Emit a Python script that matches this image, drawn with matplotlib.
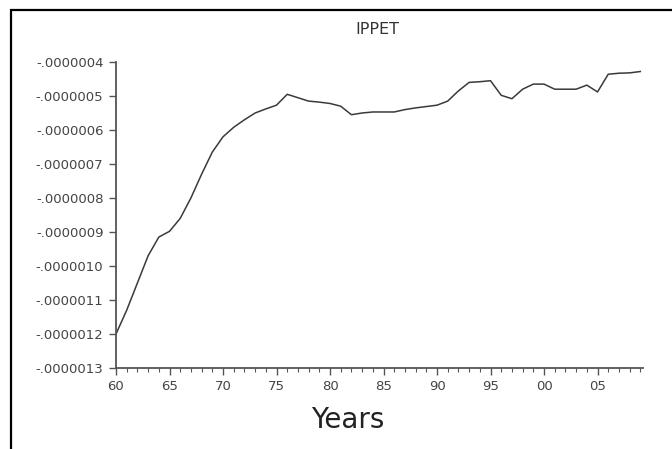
import numpy as np
import matplotlib
matplotlib.use("Agg")
import matplotlib.pyplot as plt
from matplotlib.ticker import FuncFormatter, MultipleLocator

# annual series, units of 1e-7
years = np.arange(1960, 2010)
ippet = np.array([
    -12.00, -11.30, -10.50, -9.70, -9.15, -8.98, -8.60, -8.00, -7.30, -6.65,
    -6.20, -5.92, -5.70, -5.50, -5.38, -5.27, -4.95, -5.05, -5.15, -5.18,
    -5.22, -5.30, -5.55, -5.50, -5.47, -5.47, -5.47, -5.40, -5.35, -5.31,
    -5.27, -5.15, -4.85, -4.60, -4.58, -4.55, -4.98, -5.08, -4.80, -4.65,
    -4.65, -4.80, -4.80, -4.80, -4.68, -4.88, -4.36, -4.33, -4.32, -4.28,
]) * 1e-7

W, H = 672, 449
fig = plt.figure(figsize=(W / 100, H / 100), dpi=100)

# axes box in pixels: left 116, right 643, top 62, bottom 368
ax = fig.add_axes([116 / W, 1 - 368 / H, (643 - 116) / W, (368 - 62) / H])
ax.plot(years, ippet, color="#3a3a3a", lw=1.1)

ax.set_xlim(1960, 2009.25)
ax.set_ylim(-13e-7, -4e-7)

ax.xaxis.set_major_locator(MultipleLocator(5))
ax.xaxis.set_minor_locator(MultipleLocator(1))
ax.yaxis.set_major_locator(MultipleLocator(1e-7))

ax.xaxis.set_major_formatter(FuncFormatter(lambda v, p: f"{int(round(v)) % 100:02d}"))
ax.yaxis.set_major_formatter(FuncFormatter(lambda v, p: f"{v:.7f}".replace("-0.", "-.")))

for s in ["top", "right"]:
    ax.spines[s].set_visible(False)
for s in ["left", "bottom"]:
    ax.spines[s].set_color("#555555")
    ax.spines[s].set_linewidth(1.3)

ax.tick_params(axis="both", which="major", direction="out", length=5, width=1,
               color="#555555", labelcolor="#444444", labelsize=9.5, pad=4)
ax.tick_params(axis="x", which="minor", direction="out", length=3, width=0.8,
               color="#555555")

fig.text(377 / W, 1 - 29 / H, "IPPET", ha="center", va="center",
         fontsize=11.5, color="#333333")
fig.text(348 / W, 1 - 420 / H, "Years", ha="center", va="center",
         fontsize=20, color="#222222")

# outer frame, running off the right and bottom edges
frame = plt.Rectangle((11 / W, -0.1), 1.2, 1.1 - 10 / H, transform=fig.transFigure,
                      fill=False, edgecolor="black", lw=1.6, clip_on=False)
fig.patches.append(frame)

fig.savefig("out.png", dpi=100)
